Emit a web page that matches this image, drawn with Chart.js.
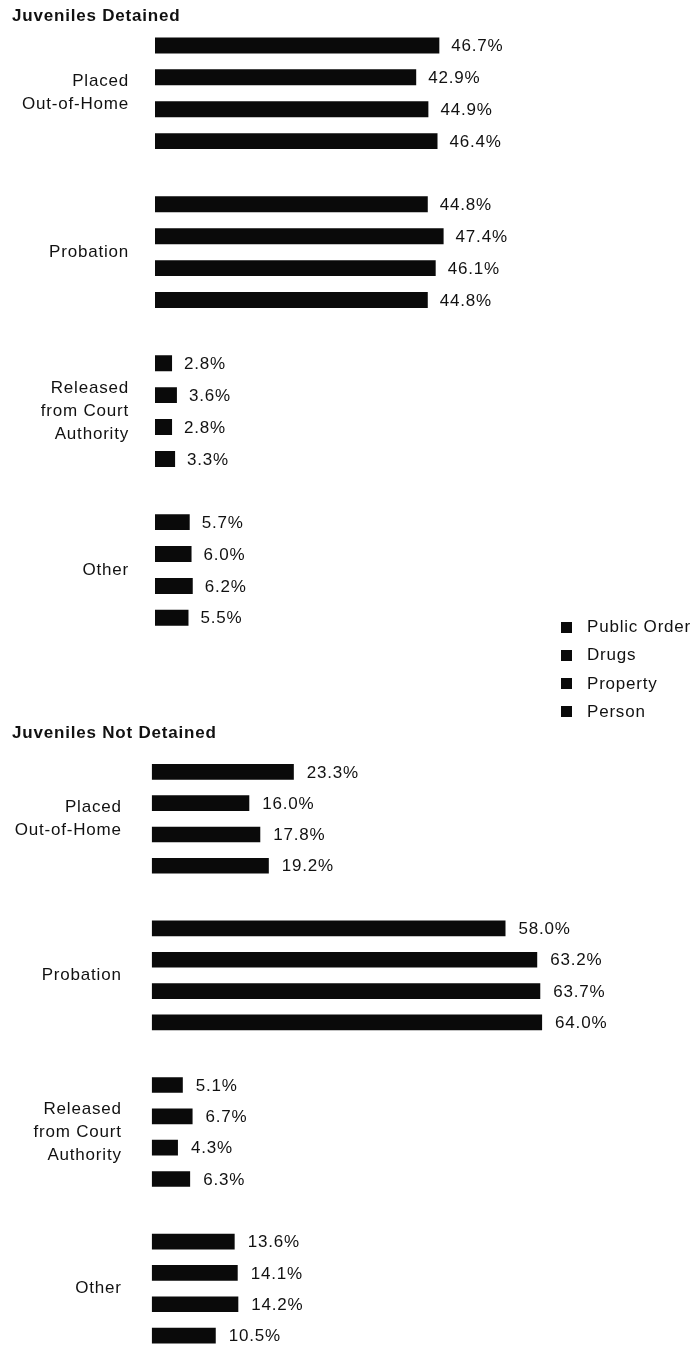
<!DOCTYPE html>
<html>
<head>
<meta charset="utf-8">
<title>Juveniles Detained / Not Detained</title>
<script src="https://cdn.jsdelivr.net/npm/chart.js@4.4.1/dist/chart.umd.min.js"></script>
<style>
html, body { margin: 0; padding: 0; width: 694px; height: 1349px; overflow: hidden; background: #fff; }
canvas { position: absolute; left: 0; }
#detainedChart { top: 0; }
#notDetainedChart { top: 700px; }
#legend { position: absolute; left: 561px; top: 613px; font: 17px "Liberation Sans", Arial, sans-serif; letter-spacing: 0.8px; color: #111; }
#legend div { position: relative; height: 28.3px; line-height: 28.3px; padding-left: 26px; white-space: nowrap; }
#legend span { position: absolute; left: 0; top: 8.6px; width: 11px; height: 11px; }
</style>
</head>
<body>
<canvas id="detainedChart" width="694" height="660"></canvas>
<canvas id="notDetainedChart" width="694" height="680"></canvas>
<div id="legend"></div>
<script>
const categories = [['Placed', 'Out-of-Home'], 'Probation', ['Released', 'from Court', 'Authority'], 'Other'];
const seriesNames = ['Public Order', 'Drugs', 'Property', 'Person'];

// Juveniles Detained
const detainedPublicOrder = [46.7, 44.8, 2.8, 5.7];
const detainedDrugs = [42.9, 47.4, 3.6, 6.0];
const detainedProperty = [44.9, 46.1, 2.8, 6.2];
const detainedPerson = [46.4, 44.8, 3.3, 5.5];

// Juveniles Not Detained
const notDetainedPublicOrder = [23.3, 58.0, 5.1, 13.6];
const notDetainedDrugs = [16.0, 63.2, 6.7, 14.1];
const notDetainedProperty = [17.8, 63.7, 4.3, 14.2];
const notDetainedPerson = [19.2, 64.0, 6.3, 10.5];

const barColor = '#0a0a0a';
const textColor = '#111';
const fontFamily = '"Liberation Sans", Arial, Helvetica, sans-serif';

Chart.defaults.font.family = fontFamily;
Chart.defaults.color = textColor;

// percent label at the end of every bar
const valueLabels = {
    id: 'valueLabels',
    beforeDraw(chart) {
        chart.ctx.letterSpacing = '0.8px';
    },
    afterDatasetsDraw(chart, args, opts) {
        const ctx = chart.ctx;
        ctx.save();
        ctx.font = '17px ' + fontFamily;
        ctx.fillStyle = textColor;
        ctx.textBaseline = 'middle';
        ctx.textAlign = 'left';
        chart.data.datasets.forEach((ds, i) => {
            chart.getDatasetMeta(i).data.forEach((bar, j) => {
                ctx.fillText(ds.data[j].toFixed(1) + '%', bar.x + opts.gap, bar.y + 1);
            });
        });
        ctx.restore();
    }
};

function makeDatasets(values, catPct) {
    return values.map((data, i) => ({
        label: seriesNames[i],
        data: data,
        backgroundColor: barColor,
        barPercentage: 0.5,
        categoryPercentage: catPct
    }));
}

const detainedCtx = document.getElementById('detainedChart').getContext('2d');
new Chart(detainedCtx, {
    type: 'bar',
    data: {
        labels: categories,
        datasets: makeDatasets([detainedPublicOrder, detainedDrugs, detainedProperty, detainedPerson], 0.803)
    },
    options: {
        responsive: false,
        animation: false,
        indexAxis: 'y',
        layout: { padding: { left: 12, right: 112.8, top: 0, bottom: 10.6 } },
        plugins: {
            legend: { display: false },
            tooltip: { enabled: false },
            title: {
                display: true,
                text: 'Juveniles Detained',
                align: 'start',
                color: textColor,
                font: { size: 17, weight: 'bold', lineHeight: 1.2 },
                padding: { top: 5.8, bottom: -12.35 }
            },
            valueLabels: { gap: 12 }
        },
        scales: {
            x: { display: false, min: 0, max: 70 },
            y: {
                grid: { display: false, drawTicks: false },
                border: { display: false },
                ticks: { color: textColor, padding: 26, font: { size: 17, lineHeight: '23px' } },
                afterFit(scale) {
                    scale.width = 143;
                    scale.paddingTop = 0;
                    scale.paddingBottom = 0;
                }
            }
        }
    },
    plugins: [valueLabels]
});

const notDetainedCtx = document.getElementById('notDetainedChart').getContext('2d');
new Chart(notDetainedCtx, {
    type: 'bar',
    data: {
        labels: categories,
        datasets: makeDatasets([notDetainedPublicOrder, notDetainedDrugs, notDetainedProperty, notDetainedPerson], 0.8)
    },
    options: {
        responsive: false,
        animation: false,
        indexAxis: 'y',
        layout: { padding: { left: 12, right: 115.3, top: 0, bottom: 13.1 } },
        plugins: {
            legend: { display: false },
            tooltip: { enabled: false },
            title: {
                display: true,
                text: 'Juveniles Not Detained',
                align: 'start',
                color: textColor,
                font: { size: 17, weight: 'bold', lineHeight: 1.2 },
                padding: { top: 23.3, bottom: -3.2 }
            },
            valueLabels: { gap: 13 }
        },
        scales: {
            x: { display: false, min: 0, max: 70 },
            y: {
                grid: { display: false, drawTicks: false },
                border: { display: false },
                ticks: { color: textColor, padding: 30, font: { size: 17, lineHeight: '23px' } },
                afterFit(scale) {
                    scale.width = 139.7;
                    scale.paddingTop = 0;
                    scale.paddingBottom = 0;
                }
            }
        }
    },
    plugins: [valueLabels]
});

// shared legend between the two panels
const legend = document.getElementById('legend');
seriesNames.forEach(name => {
    const row = document.createElement('div');
    const box = document.createElement('span');
    box.style.background = barColor;
    row.appendChild(box);
    row.appendChild(document.createTextNode(name));
    legend.appendChild(row);
});
</script>
</body>
</html>
